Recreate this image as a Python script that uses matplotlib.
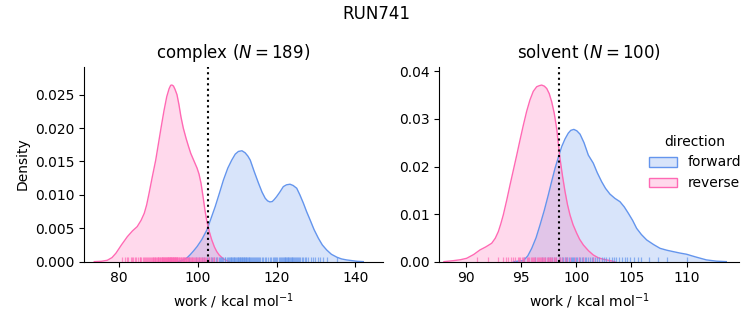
import matplotlib
matplotlib.use("Agg")
import matplotlib.pyplot as plt
from matplotlib.patches import Patch

# ---------------- data ----------------
run_name = "RUN741"
phases = ["complex", "solvent"]
n_samples = [189, 100]
directions = ["forward", "reverse"]
colors = {"forward": "#6495ED", "reverse": "#FF69B4"}

# complex phase, KDE curves (work in kcal/mol, density)
cx_rev_x = [73.7, 75.5, 77.0, 78.2, 79.2, 80.6, 82.1, 83.4, 84.6, 85.6, 86.4, 87.0,
            87.6, 88.4, 89.3, 90.0, 90.7, 91.4, 92.1, 92.7, 93.1, 93.4, 93.8, 94.2,
            94.7, 95.2, 95.7, 96.3, 97.0, 97.6, 98.2, 99.0, 99.8, 100.3, 100.8, 101.3,
            101.8, 102.3, 102.9, 103.5, 104.2, 104.8, 105.4, 106.5, 108.0]
cx_rev_y = [0.0, 0.00005, 0.0002, 0.0006, 0.00126, 0.0025, 0.00374, 0.0046, 0.00524,
            0.0062, 0.00725, 0.0085, 0.0102, 0.0126, 0.0152, 0.0177, 0.0202, 0.0226,
            0.0247, 0.0259, 0.0264, 0.02645, 0.0263, 0.0258, 0.0250, 0.0235, 0.0217,
            0.0200, 0.01847, 0.0173, 0.0162, 0.0151, 0.0140, 0.0131, 0.01174, 0.0098,
            0.0077, 0.0060, 0.0045, 0.0033, 0.0022, 0.0015, 0.0010, 0.0004, 0.0]
cx_fwd_x = [95.0, 96.5, 97.3, 98.0, 98.9, 99.8, 101.0, 102.3, 103.3, 104.4, 105.5,
            106.5, 107.6, 108.6, 109.5, 110.3, 111.2, 112.0, 112.7, 113.3, 114.3,
            115.4, 116.3, 117.1, 117.7, 118.3, 118.9, 119.4, 120.0, 120.8, 121.7,
            122.5, 123.4, 124.2, 125.1, 125.9, 126.8, 127.6, 128.5, 129.5, 130.6,
            131.6, 132.7, 133.9, 135.3, 136.5, 137.8, 140.4, 142.0]
cx_fwd_y = [0.0, 0.0003, 0.0006, 0.001, 0.0016, 0.00225, 0.0033, 0.00475, 0.0064,
            0.00823, 0.0103, 0.01223, 0.0140, 0.0152, 0.0161, 0.0165, 0.0166, 0.0163,
            0.0158, 0.0152, 0.0135, 0.01174, 0.0104, 0.00949, 0.0091, 0.00894, 0.0090,
            0.0093, 0.00973, 0.0104, 0.01123, 0.0115, 0.01159, 0.0114, 0.01099,
            0.0100, 0.00874, 0.0075, 0.00624, 0.0048, 0.0035, 0.0025, 0.00175,
            0.0011, 0.00066, 0.0004, 0.00025, 0.00005, 0.0]

# solvent phase, KDE curves
sv_rev_x = [88.0, 88.85, 89.5, 90.06, 90.7, 91.27, 91.8, 92.33, 92.65, 92.93, 93.15,
            93.38, 93.7, 93.99, 94.3, 94.6, 94.9, 95.2, 95.5, 95.8, 96.1, 96.41, 96.65,
            96.86, 97.1, 97.32, 97.55, 97.77, 98.0, 98.22, 98.52, 98.75, 98.98, 99.2,
            99.43, 99.7, 100.03, 100.3, 100.64, 101.1, 101.54, 102.0, 102.45, 103.5]
sv_rev_y = [0.0, 0.0002, 0.0004, 0.0007, 0.0015, 0.00246, 0.0031, 0.00386, 0.0049,
            0.0063, 0.0079, 0.0098, 0.0130, 0.0161, 0.0193, 0.0224, 0.0256, 0.0287,
            0.0316, 0.0340, 0.0358, 0.03677, 0.0370, 0.03712, 0.0369, 0.0364, 0.0353,
            0.0336, 0.0312, 0.0280, 0.0217, 0.0180, 0.0147, 0.0120, 0.0098, 0.0078,
            0.0060, 0.0047, 0.0035, 0.0023, 0.0014, 0.0008, 0.0005, 0.0]
sv_fwd_x = [94.3, 95.2, 95.6, 95.96, 96.35, 96.71, 97.1, 97.46, 97.76, 98.07, 98.38,
            98.68, 98.98, 99.27, 99.5, 99.78, 100.05, 100.34, 100.7, 101.09, 101.54,
            101.9, 102.3, 102.65, 103.05, 103.5, 103.96, 104.35, 104.71, 105.1, 105.47,
            105.9, 106.38, 107.0, 107.59, 108.2, 108.79, 109.4, 110.0, 110.5, 110.92,
            111.8, 112.7, 113.6]
sv_fwd_y = [0.0, 0.0002, 0.0012, 0.0028, 0.0050, 0.0077, 0.0108, 0.0140, 0.0168,
            0.0196, 0.0220, 0.0242, 0.0258, 0.0270, 0.0276, 0.0278, 0.0275, 0.0268,
            0.0250, 0.0224, 0.0207, 0.0187, 0.0168, 0.0154, 0.0142, 0.0133, 0.0126,
            0.0115, 0.0102, 0.0087, 0.0070, 0.0057, 0.00456, 0.0036, 0.0028, 0.0024,
            0.0021, 0.0018, 0.00155, 0.0012, 0.00092, 0.00036, 0.0001, 0.0]

# rug (individual work values, estimated)
cx_rev_rug = [80.8, 81.5, 82.0, 82.3, 83.0, 83.3, 83.6, 84.1, 84.4, 84.7, 85.2, 85.4,
              85.6, 86.0, 86.2, 86.5, 86.9, 87.1, 87.3, 87.6, 87.8, 88.0, 88.3, 88.5,
              88.6, 88.9, 89.0, 89.2, 89.4, 89.5, 89.8, 89.9, 90.0, 90.2, 90.3, 90.5,
              90.6, 90.8, 90.9, 91.0, 91.1, 91.2, 91.4, 91.5, 91.6, 91.7, 91.9, 92.0,
              92.1, 92.2, 92.3, 92.4, 92.5, 92.6, 92.7, 92.8, 92.9, 93.0, 93.1, 93.2,
              93.3, 93.4, 93.5, 93.6, 93.7, 93.8, 93.9, 94.0, 94.1, 94.2, 94.3, 94.4,
              94.5, 94.6, 94.7, 94.8, 95.0, 95.1, 95.3, 95.4, 95.6, 95.7, 95.9, 96.1,
              96.2, 96.4, 96.5, 96.7, 96.9, 97.0, 97.2, 97.4, 97.6, 97.8, 98.0, 98.2,
              98.4, 98.6, 98.8, 99.0, 99.3, 99.5, 99.7, 100.0, 100.2, 100.5, 100.7,
              101.0, 101.2, 101.5, 101.8, 102.1, 102.5, 102.9, 103.3, 103.8, 104.2,
              104.8]
cx_fwd_rug = [97.8, 99.6, 100.4, 101.0, 101.6, 102.2, 102.8, 103.3, 103.7, 104.1,
              104.5, 104.9, 105.3, 105.6, 105.9, 106.2, 106.5, 106.8, 107.0, 107.3,
              107.6, 107.8, 108.1, 108.3, 108.5, 108.7, 108.9, 109.1, 109.3, 109.5,
              109.7, 109.9, 110.1, 110.3, 110.5, 110.6, 110.8, 111.0, 111.2, 111.3,
              111.5, 111.6, 111.8, 112.0, 112.2, 112.3, 112.5, 112.7, 112.9, 113.1,
              113.3, 113.5, 113.7, 113.9, 114.2, 114.4, 114.7, 114.9, 115.2, 115.5,
              115.9, 116.2, 116.6, 117.0, 117.4, 117.8, 118.2, 118.6, 119.0, 119.3,
              119.6, 119.9, 120.2, 120.5, 120.8, 121.0, 121.3, 121.5, 121.8, 122.0,
              122.2, 122.4, 122.6, 122.8, 123.0, 123.2, 123.4, 123.6, 123.8, 124.0,
              124.2, 124.4, 124.7, 124.9, 125.2, 125.4, 125.7, 126.0, 126.4, 126.7,
              127.1, 127.5, 128.0, 128.6, 129.2, 129.8, 130.4, 131.0, 131.8, 132.7,
              135.3]
sv_rev_rug = [91.0, 92.0, 92.9, 93.4, 93.6, 93.8, 94.1, 94.3, 94.4, 94.7, 94.8, 94.9,
              95.1, 95.2, 95.3, 95.5, 95.6, 95.7, 95.9, 96.0, 96.1, 96.2, 96.3, 96.4,
              96.5, 96.6, 96.7, 96.8, 96.9, 97.0, 97.1, 97.2, 97.3, 97.4, 97.5, 97.6,
              97.7, 97.8, 98.0, 98.1, 98.2, 98.4, 98.5, 98.7, 99.0, 99.2, 99.4, 99.9,
              100.2, 100.6, 101.5]
sv_fwd_rug = [95.3, 96.3, 96.9, 97.2, 97.4, 97.6, 97.8, 98.0, 98.2, 98.4, 98.5, 98.7,
              98.8, 99.0, 99.1, 99.2, 99.3, 99.5, 99.6, 99.7, 99.8, 100.0, 100.1, 100.2,
              100.3, 100.5, 100.6, 100.8, 100.9, 101.1, 101.2, 101.4, 101.5, 101.7,
              101.9, 102.1, 102.3, 102.5, 102.7, 103.0, 103.2, 103.4, 103.6, 103.9,
              104.1, 104.4, 104.6, 104.9, 105.2, 105.6, 105.9, 106.6, 107.4, 108.2,
              110.0]

# free-energy estimates (dotted lines)
ref_lines = [102.6, 98.43]

xlims = [(71.1, 147.0), (87.58, 114.75)]
ylims = [(0, 0.0292), (0, 0.041)]
xticks = [[80, 100, 120, 140], [90, 95, 100, 105, 110]]
yticks = [[0.0, 0.005, 0.010, 0.015, 0.020, 0.025], [0.00, 0.01, 0.02, 0.03, 0.04]]
ytick_fmt = ["{:.3f}", "{:.2f}"]

curves = [
    {"forward": (cx_fwd_x, cx_fwd_y), "reverse": (cx_rev_x, cx_rev_y)},
    {"forward": (sv_fwd_x, sv_fwd_y), "reverse": (sv_rev_x, sv_rev_y)},
]
rugs = [
    {"forward": cx_fwd_rug, "reverse": cx_rev_rug},
    {"forward": sv_fwd_rug, "reverse": sv_rev_rug},
]

# ---------------- figure ----------------
fig = plt.figure(figsize=(7.53, 3.25), dpi=100)
ax_pos = [[0.1116, 0.195, 0.397, 0.600], [0.5834, 0.195, 0.398, 0.600]]

for i, phase in enumerate(phases):
    ax = fig.add_axes(ax_pos[i])
    for d in directions:
        x, y = curves[i][d]
        ax.fill_between(x, y, 0, color=colors[d], alpha=0.25, linewidth=0)
        ax.plot(x, y, color=colors[d], lw=1.0, solid_joinstyle="round")
    for d in directions:
        ax.vlines(rugs[i][d], 0, 0.025, transform=ax.get_xaxis_transform(),
                  color=colors[d], lw=0.9, alpha=0.7)
    ax.axvline(ref_lines[i], color="black", ls=":", lw=1.5)
    ax.set_xlim(*xlims[i])
    ax.set_ylim(*ylims[i])
    ax.set_xticks(xticks[i])
    ax.set_yticks(yticks[i])
    ax.set_yticklabels([ytick_fmt[i].format(v) for v in yticks[i]])
    ax.spines["top"].set_visible(False)
    ax.spines["right"].set_visible(False)
    ax.set_xlabel(r"work / kcal mol$^{-1}$")
    ax.set_title(phase + r" ($N = %d$)" % n_samples[i], fontsize=12)
    if i == 0:
        ax.set_ylabel("Density")

handles = []
for d in directions:
    p = Patch(facecolor=matplotlib.colors.to_rgba(colors[d], 0.25),
              edgecolor=colors[d], linewidth=1.0)
    handles.append(p)
fig.legend(handles, directions, title="direction", loc="center left",
           bbox_to_anchor=(0.845, 0.50), frameon=False)

fig.suptitle(run_name, fontsize=12, y=0.985)
fig.savefig("out.png", dpi=100)
